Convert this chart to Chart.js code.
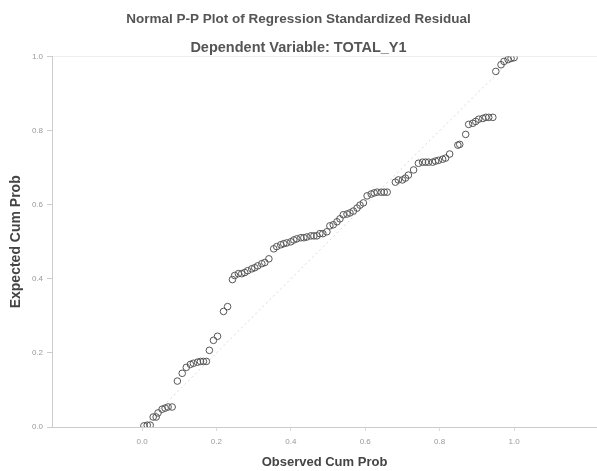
<!DOCTYPE html>
<html>
<head>
<meta charset="utf-8">
<title>Normal P-P Plot</title>
<script src="https://cdn.jsdelivr.net/npm/chart.js@4.4.0/dist/chart.umd.min.js"></script>
<style>
    html, body { margin: 0; padding: 0; background: #fff; }
    #wrap { width: 597px; height: 471px; position: relative; }
</style>
</head>
<body>
<div id="wrap"><canvas id="ppChart"></canvas></div>
<script>
// Data
const observedCumProb = [
    0.005, 0.014, 0.022, 0.030, 0.038, 0.043, 0.054, 0.062, 0.070, 0.081,
    0.095, 0.108, 0.119, 0.130, 0.138, 0.149, 0.157, 0.165, 0.173, 0.181,
    0.192, 0.203, 0.219, 0.230, 0.243, 0.249, 0.259, 0.268, 0.276, 0.284,
    0.295, 0.303, 0.311, 0.322, 0.330, 0.341, 0.354, 0.362, 0.373, 0.381,
    0.389, 0.400, 0.408, 0.416, 0.427, 0.435, 0.443, 0.454, 0.462, 0.470,
    0.478, 0.486, 0.497, 0.505, 0.514, 0.524, 0.532, 0.541, 0.551, 0.559,
    0.568, 0.578, 0.586, 0.595, 0.605, 0.616, 0.624, 0.632, 0.643, 0.651,
    0.659, 0.681, 0.689, 0.700, 0.708, 0.716, 0.730, 0.743, 0.754, 0.762,
    0.770, 0.781, 0.789, 0.797, 0.808, 0.816, 0.827, 0.849, 0.854, 0.870,
    0.878, 0.889, 0.897, 0.905, 0.916, 0.924, 0.932, 0.943, 0.951, 0.965,
    0.973, 0.984, 0.992, 1.000
];
const expectedCumProb = [
    0.003, 0.005, 0.005, 0.027, 0.027, 0.038, 0.048, 0.051, 0.054, 0.054,
    0.124, 0.145, 0.161, 0.169, 0.172, 0.175, 0.177, 0.177, 0.177, 0.207,
    0.234, 0.245, 0.312, 0.325, 0.398, 0.409, 0.414, 0.414, 0.417, 0.422,
    0.427, 0.430, 0.435, 0.441, 0.444, 0.454, 0.481, 0.487, 0.492, 0.495,
    0.497, 0.500, 0.505, 0.508, 0.511, 0.511, 0.513, 0.516, 0.516, 0.516,
    0.522, 0.522, 0.527, 0.543, 0.546, 0.554, 0.562, 0.573, 0.575, 0.578,
    0.583, 0.591, 0.599, 0.605, 0.624, 0.629, 0.632, 0.634, 0.634, 0.634,
    0.634, 0.661, 0.667, 0.667, 0.672, 0.680, 0.694, 0.712, 0.715, 0.715,
    0.715, 0.715, 0.718, 0.720, 0.723, 0.726, 0.737, 0.761, 0.763, 0.790,
    0.817, 0.820, 0.825, 0.831, 0.833, 0.836, 0.836, 0.836, 0.960, 0.978,
    0.987, 0.992, 0.995, 0.997
];
const tickValues = [0, 0.2, 0.4, 0.6, 0.8, 1.0];
const referenceLine = [0, 1];

const points = observedCumProb.map((x, i) => ({ x: x, y: expectedCumProb[i] }));
const diagonal = referenceLine.map(v => ({ x: v, y: v }));

const fontFamily = '"Liberation Sans", Arial, sans-serif';

function fixedTicks(scale) {
    scale.ticks = tickValues.map(v => ({ value: v }));
}

const ctx = document.getElementById('ppChart').getContext('2d');
new Chart(ctx, {
    type: 'scatter',
    data: {
        datasets: [
            {
                label: 'Reference',
                type: 'line',
                data: diagonal,
                borderColor: 'rgba(200, 200, 200, 0.7)',
                borderWidth: 1,
                borderDash: [2, 3],
                pointRadius: 0,
                fill: false,
                order: 2
            },
            {
                label: 'Residual',
                data: points,
                pointStyle: 'circle',
                pointRadius: 3.3,
                pointBorderWidth: 1,
                pointBorderColor: '#555',
                pointBackgroundColor: 'rgba(255, 255, 255, 0)',
                order: 1
            }
        ]
    },
    options: {
        responsive: true,
        maintainAspectRatio: false,
        animation: false,
        layout: { autoPadding: false, padding: { left: 0, right: 0, top: 0, bottom: 1 } },
        plugins: {
            legend: { display: false },
            tooltip: { enabled: false },
            title: {
                display: true,
                text: 'Normal P-P Plot of Regression Standardized Residual',
                color: '#555',
                font: { family: fontFamily, size: 13.5, weight: 'bold' },
                padding: { top: 11, bottom: 12 }
            },
            subtitle: {
                display: true,
                text: 'Dependent Variable: TOTAL_Y1',
                color: '#555',
                font: { family: fontFamily, size: 14.5, weight: 'bold' },
                padding: { top: 0, bottom: 0 }
            }
        },
        scales: {
            x: {
                type: 'linear',
                min: -0.242,
                max: 1.223,
                afterBuildTicks: fixedTicks,
                afterFit: function(scale) { scale.height = 43; },
                border: { display: true, color: '#ccc', width: 1 },
                grid: { display: true, drawOnChartArea: false, drawTicks: true, tickLength: 4, tickColor: '#ddd' },
                ticks: {
                    color: '#999',
                    font: { family: fontFamily, size: 8 },
                    padding: 6,
                    maxRotation: 0,
                    callback: v => v.toFixed(1)
                },
                title: {
                    display: true,
                    text: 'Observed Cum Prob',
                    color: '#444',
                    font: { family: fontFamily, size: 13, weight: 'bold' },
                    padding: { top: 4, bottom: 0 }
                }
            },
            y: {
                type: 'linear',
                min: 0,
                max: 1,
                afterBuildTicks: fixedTicks,
                afterFit: function(scale) { scale.width = 52; },
                border: { display: true, color: '#ccc', width: 1 },
                grid: {
                    display: true,
                    drawTicks: true,
                    tickLength: 5,
                    tickColor: '#ccc',
                    color: c => (c.tick && c.tick.value === 1 ? '#eee' : 'rgba(0,0,0,0)')
                },
                ticks: {
                    color: '#999',
                    font: { family: fontFamily, size: 8 },
                    padding: 4,
                    callback: v => v.toFixed(1)
                },
                title: {
                    display: true,
                    text: 'Expected Cum Prob',
                    color: '#444',
                    font: { family: fontFamily, size: 14, weight: 'bold' },
                    padding: { top: 8, bottom: 0 }
                }
            }
        }
    }
});
</script>
</body>
</html>
